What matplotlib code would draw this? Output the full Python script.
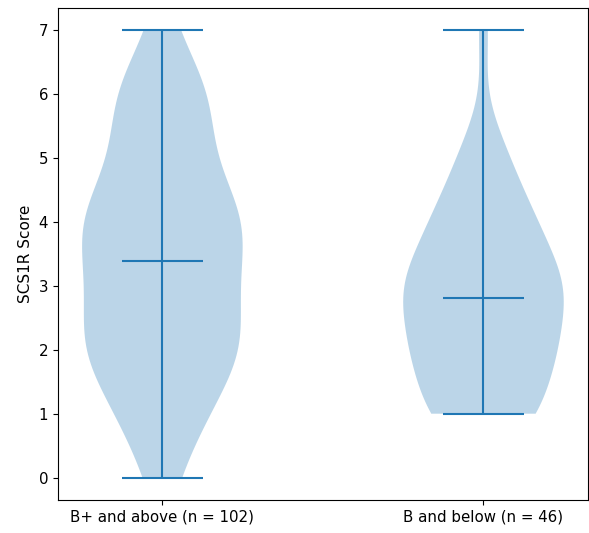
import numpy as np
import matplotlib
matplotlib.use("Agg")
import matplotlib.pyplot as plt

# score values and how many respondents got each one
scores = [0, 1, 2, 3, 4, 5, 6, 7]
counts_high = [4, 11, 21, 17, 22, 11, 13, 3]
counts_low = [0, 9, 11, 13, 8, 4, 0, 1]

group_labels = ["B+ and above (n = 102)", "B and below (n = 46)"]


def main():
    data_high = np.repeat(scores, counts_high)
    data_low = np.repeat(scores, counts_low)

    fig, ax = plt.subplots(figsize=(5.89, 5.33), dpi=100)
    fig.subplots_adjust(left=0.0985, right=0.998, top=0.985, bottom=0.062)

    ax.violinplot([data_high, data_low], showmeans=True)
    ax.set_xticks([1, 2])
    ax.set_xticklabels(group_labels)
    ax.tick_params(labelsize=10.8)
    ax.set_ylabel("SCS1R Score", fontsize=11)

    fig.savefig("out.png")


if __name__ == '__main__':
    main()
